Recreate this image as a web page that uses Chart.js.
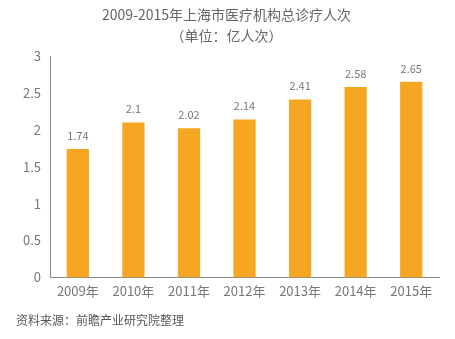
<!DOCTYPE html>
<html>
<head>
<meta charset="utf-8">
<script src="https://cdn.jsdelivr.net/npm/chart.js@4/dist/chart.umd.min.js"></script>
<style>
  html, body { margin: 0; padding: 0; background: #fff; }
  #wrap { position: relative; width: 455px; height: 339px; }
  #source {
    position: absolute; left: 16px; top: 311px;
    font: 12px "Noto Sans CJK SC", sans-serif; color: #555;
  }
</style>
</head>
<body>
<div id="wrap">
  <canvas id="chart" width="455" height="339"></canvas>
  <div id="source">资料来源：前瞻产业研究院整理</div>
</div>
<script>
// Data
const years = ["2009年", "2010年", "2011年", "2012年", "2013年", "2014年", "2015年"];
const visits = [1.74, 2.1, 2.02, 2.14, 2.41, 2.58, 2.65];
const titleLines = ["2009-2015年上海市医疗机构总诊疗人次", "（单位：亿人次）"];

const FONT = '"Noto Sans CJK SC", "Noto Sans", sans-serif';

// Draw value above each bar
const valueLabels = {
  id: "valueLabels",
  afterDatasetsDraw(chart) {
    const { ctx } = chart;
    const meta = chart.getDatasetMeta(0);
    ctx.save();
    ctx.font = "11px " + FONT;
    ctx.fillStyle = "#777";
    ctx.textAlign = "center";
    ctx.textBaseline = "bottom";
    meta.data.forEach((bar, i) => {
      ctx.fillText(String(visits[i]), bar.x, bar.y - 8);
    });
    ctx.restore();
  }
};

new Chart(document.getElementById("chart").getContext("2d"), {
  type: "bar",
  data: {
    labels: years,
    datasets: [{
      data: visits,
      backgroundColor: "#F5A623",
      barPercentage: 0.4,
      categoryPercentage: 1.0
    }]
  },
  options: {
    responsive: false,
    animation: false,
    layout: { padding: { left: 14, right: 16, top: 0, bottom: 34 } },
    scales: {
      x: {
        grid: { display: false, drawTicks: false },
        border: { color: "#888" },
        ticks: { color: "#777", font: { size: 13, family: FONT }, padding: 6, maxRotation: 0 }
      },
      y: {
        min: 0,
        max: 3,
        grid: { display: false, drawTicks: false },
        border: { color: "#888" },
        ticks: {
          stepSize: 0.5,
          color: "#777",
          font: { size: 13, family: FONT },
          padding: 9,
          callback: v => String(v)
        }
      }
    },
    plugins: {
      legend: { display: false },
      tooltip: { enabled: false },
      title: {
        display: true,
        text: titleLines,
        color: "#666",
        font: { size: 14, family: FONT, weight: "normal", lineHeight: 1.5 },
        padding: { top: 4, bottom: 10 }
      }
    }
  },
  plugins: [valueLabels]
});
</script>
</body>
</html>
